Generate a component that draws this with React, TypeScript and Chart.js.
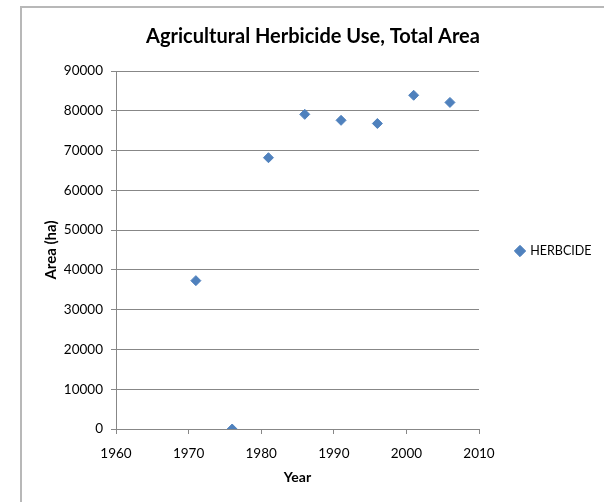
import React, { useEffect, useRef } from "react";
import { Chart, registerables } from "chart.js";

Chart.register(...registerables);

const chartTitle = "Agricultural Herbicide Use, Total Area";
const xAxisTitle = "Year";
const yAxisTitle = "Area (ha)";
const seriesLabel = "HERBCIDE";

const years = [1971, 1976, 1981, 1986, 1991, 1996, 2001, 2006];
const herbicideArea = [37300, 0, 68200, 79100, 77600, 76800, 83900, 82100];

const xMin = 1960;
const xMax = 2010;
const xStep = 10;
const yMin = 0;
const yMax = 90000;
const yStep = 10000;

const FONT = "Lato, 'Open Sans', sans-serif";
const GRID = "#878787";
const BLUE = "#4F81BD";

export default function App() {
  const ref = useRef<HTMLCanvasElement | null>(null);

  useEffect(() => {
    if (!ref.current) return;
    const legendWidth = {
      id: "legendWidth",
      beforeLayout(chart: any) {
        const lg = chart.legend;
        if (lg && !lg.__wrapped) {
          const orig = lg.fit.bind(lg);
          lg.fit = function () {
            orig();
            this.width = 125;
          };
          lg.__wrapped = true;
        }
      },
    };
    const chart = new Chart(ref.current, {
      type: "scatter",
      data: {
        datasets: [
          {
            label: seriesLabel,
            data: years.map((x, i) => ({ x, y: herbicideArea[i] })),
            backgroundColor: BLUE,
            borderColor: BLUE,
            borderWidth: 1,
            pointStyle: "rectRot",
            pointRadius: 5,
            pointHoverRadius: 5,
          },
        ],
      },
      options: {
        animation: false,
        responsive: false,
        maintainAspectRatio: false,
        layout: { padding: { left: 22, right: 0, top: 0, bottom: 0 } },
        plugins: {
          tooltip: { enabled: false },
          title: {
            display: true,
            text: chartTitle,
            color: "#000",
            font: { family: FONT, size: 20, weight: "bold" },
            padding: { top: 25, bottom: 22 },
          },
          legend: {
            position: "right",
            labels: {
              usePointStyle: true,
              pointStyle: "rectRot",
              boxWidth: 8,
              boxHeight: 8,
              padding: 37,
              color: "#000",
              font: { family: FONT, size: 12.5 },
            },
          },
        },
        scales: {
          x: {
            type: "linear",
            min: xMin,
            max: xMax,
            afterFit(scale: any) {
              scale.height = 73;
            },
            afterBuildTicks(scale: any) {
              const t = [];
              for (let v = xMin; v <= xMax; v += xStep) t.push({ value: v });
              scale.ticks = t;
            },
            ticks: {
              stepSize: xStep,
              color: "#000",
              font: { family: FONT, size: 13.5 },
              padding: 12,
              maxRotation: 0,
              callback: (v: any) => String(v),
            },
            grid: {
              drawOnChartArea: false,
              drawTicks: true,
              tickLength: 5,
              color: GRID,
            },
            border: { display: true, color: GRID, width: 1 },
            title: {
              display: true,
              text: xAxisTitle,
              color: "#000",
              font: { family: FONT, size: 14, weight: "bold" },
              padding: { top: 4, bottom: 16.5 },
            },
          },
          y: {
            type: "linear",
            min: yMin,
            max: yMax,
            afterFit(scale: any) {
              scale.width = 94;
            },
            ticks: {
              stepSize: yStep,
              color: "#000",
              font: { family: FONT, size: 13.5 },
              padding: 8,
              callback: (v: any) => String(v),
            },
            grid: {
              drawTicks: true,
              tickLength: 5,
              color: GRID,
            },
            border: { display: true, color: GRID, width: 1 },
            title: {
              display: true,
              text: yAxisTitle,
              color: "#000",
              font: { family: FONT, size: 15, weight: "bold" },
              padding: { top: 20, bottom: 4 },
            },
          },
        },
      },
      plugins: [legendWidth],
    } as any);
    return () => chart.destroy();
  }, []);

  return (
    <div style={{ position: "fixed", left: 0, top: 0, width: 604, height: 502, background: "#fff" }}>
      <div
        style={{
          position: "absolute",
          left: 20,
          top: 6,
          width: 604,
          height: 502,
          borderLeft: "2px solid #b8b8b8",
          borderTop: "2px solid #b8b8b8",
        }}
      />
      <canvas ref={ref} width={604} height={502} style={{ position: "absolute", left: 0, top: 0 }} />
    </div>
  );
}
